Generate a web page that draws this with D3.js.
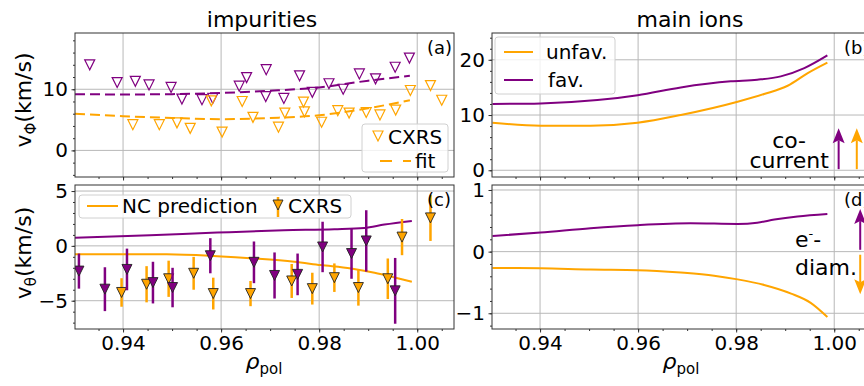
<!DOCTYPE html>
<html>
<head>
<meta charset="utf-8">
<title>impurity and main ion rotation</title>
<script src="https://d3js.org/d3.v7.min.js"></script>
<style>
  body { margin: 0; background: #fff; }
  text { font-family: "DejaVu Sans", sans-serif; fill: #000; }
</style>
</head>
<body>
<svg width="864" height="386"></svg>
<script>
const ORANGE = "orange", PURPLE = "purple";

// (a) impurity toroidal rotation, CXRS
const aRhoFav = [0.9332, 0.9388, 0.9425, 0.9453, 0.9498, 0.952, 0.9561, 0.9583, 0.9637, 0.9652, 0.9692, 0.9691, 0.9728, 0.976, 0.9786, 0.982, 0.9849, 0.9882, 0.9915, 0.9955, 0.9984];
const aVFav   = [14.0, 11.1, 11.3, 10.7, 10.3, 8.4, 8.3, 8.5, 10.5, 11.9, 13.2, 8.8, 8.5, 12.2, 9.5, 10.9, 10.0, 12.5, 11.7, 13.6, 15.1];
const aRhoUnf = [0.942, 0.9474, 0.951, 0.9537, 0.958, 0.9602, 0.9643, 0.9665, 0.9717, 0.973, 0.9768, 0.977, 0.9805, 0.9838, 0.9861, 0.9896, 0.9924, 0.9956, 0.9986, 1.0027, 1.005];
const aVUnf   = [4.2, 4.2, 4.5, 3.6, 8.1, 3.0, 8.0, 5.4, 3.8, 6.1, 7.9, 6.3, 4.6, 6.5, 6.1, 6.2, 5.8, 6.6, 9.8, 10.6, 8.2];
// (a) fits
const fitRho = [0.9302, 0.94, 0.95, 0.96, 0.97, 0.98, 0.99, 0.9985];
const fitFav = [9.2, 9.15, 9.2, 9.4, 9.75, 10.3, 11.4, 12.2];
const fitUnf = [6.0, 5.6, 5.3, 5.1, 5.3, 5.75, 6.9, 8.2];

// (c) impurity poloidal rotation, CXRS with errors
const cRhoFav = [0.931, 0.9363, 0.9408, 0.9461, 0.9501, 0.9578, 0.9667, 0.9709, 0.9756, 0.9807, 0.9866, 0.9896, 0.9955];
const cVFav   = [-2.3, -3.95, -2.15, -3.35, -3.8, -0.9, -1.5, -2.7, -2.6, -0.1, -0.7, 0.45, -4.1];
const cErrFav = [1.6, 2.0, 1.9, 1.9, 1.8, 1.6, 1.9, 2.1, 1.9, 2.3, 2.3, 2.8, 3.0];
const cRhoUnf = [0.9397, 0.9448, 0.9493, 0.9544, 0.9584, 0.966, 0.9744, 0.9786, 0.9831, 0.988, 0.994, 0.9969, 1.0027];
const cVUnf   = [-4.25, -3.5, -3.0, -2.5, -4.35, -4.35, -3.2, -3.9, -2.9, -3.8, -3.0, 0.8, 2.55];
const cErrUnf = [1.3, 1.65, 1.65, 1.5, 1.45, 1.15, 1.55, 1.45, 1.3, 1.65, 1.85, 1.65, 2.1];
// (c) neoclassical prediction
const ncRhoUnf = [0.9302, 0.9489, 0.9592, 0.9667, 0.9749, 0.9803, 0.9865, 0.9913, 0.9954, 0.9989];
const ncVUnf   = [-0.76, -0.76, -0.94, -1.15, -1.45, -1.75, -2.06, -2.45, -2.88, -3.27];
const ncRhoFav = [0.9302, 0.9455, 0.9592, 0.9728, 0.9831, 0.9892, 0.9933, 0.9989];
const ncVFav   = [0.73, 0.97, 1.21, 1.42, 1.52, 1.64, 1.94, 2.27];

// (b) main ion toroidal rotation
const bRho  = [0.9303, 0.9401, 0.9517, 0.9599, 0.9687, 0.9789, 0.9843, 0.9891, 0.9939, 0.9986];
const bFav  = [12.0, 12.1, 12.7, 13.6, 15.0, 16.1, 16.4, 17.0, 18.5, 20.8];
const bRhoU = [0.9303, 0.9401, 0.9503, 0.9599, 0.9687, 0.9803, 0.9857, 0.9905, 0.9946, 0.9986];
const bUnf  = [8.6, 8.06, 8.06, 8.6, 10.0, 12.4, 13.8, 15.3, 17.6, 19.5];

// (d) main ion poloidal rotation
const dRhoF = [0.9303, 0.9401, 0.9503, 0.9599, 0.9707, 0.9803, 0.9843, 0.9878, 0.9925, 0.9986];
const dFav  = [0.254, 0.31, 0.38, 0.43, 0.46, 0.45, 0.47, 0.52, 0.57, 0.61];
const dRhoU = [0.9303, 0.9401, 0.9503, 0.9599, 0.9687, 0.9755, 0.9803, 0.9857, 0.9912, 0.9952, 0.9986];
const dUnf  = [-0.265, -0.27, -0.29, -0.30, -0.34, -0.39, -0.45, -0.54, -0.68, -0.83, -1.06];

const xMajor = [0.94, 0.96, 0.98, 1.00];
const xMinor = d3.range(0.935, 1.0075, 0.005);
const xDom = [0.9302, 1.0075];

const svg = d3.select("svg");
const minus = d => (d < 0 ? "\u2212" + Math.abs(d) : String(d));
const tri = s => `M0,${s / 2}L${-s / 2},${-s / 2}L${s / 2},${-s / 2}Z`;
const zip = (a, b) => a.map((v, i) => [v, b[i]]);

function panel(x0, y0, w, h, yDom, yMajor, yMinor, tag, showX) {
  const g = svg.append("g").attr("transform", `translate(${x0},${y0})`);
  const x = d3.scaleLinear().domain(xDom).range([0, w]);
  const y = d3.scaleLinear().domain(yDom).range([h, 0]);
  // grid
  g.append("g").selectAll("line").data(xMajor).join("line")
    .attr("x1", d => x(d)).attr("x2", d => x(d)).attr("y1", 0).attr("y2", h)
    .attr("stroke", "#b8b8b8").attr("stroke-width", 1);
  g.append("g").selectAll("line").data(yMajor).join("line")
    .attr("y1", d => y(d)).attr("y2", d => y(d)).attr("x1", 0).attr("x2", w)
    .attr("stroke", "#b8b8b8").attr("stroke-width", 1);
  // axes
  const ya = g.append("g").call(d3.axisLeft(y).tickValues(yMajor).tickSize(3.5).tickPadding(3.5).tickFormat(minus));
  const ym = g.append("g").call(d3.axisLeft(y).tickValues(yMinor).tickSize(2).tickFormat(""));
  const xa = g.append("g").attr("transform", `translate(0,${h})`)
    .call(d3.axisBottom(x).tickValues(xMajor).tickSize(3.5).tickPadding(3.5).tickFormat(showX ? d3.format(".2f") : ""));
  const xm = g.append("g").attr("transform", `translate(0,${h})`)
    .call(d3.axisBottom(x).tickValues(xMinor).tickSize(2).tickFormat(""));
  [ya, ym, xa, xm].forEach(a => {
    a.select(".domain").remove();
    a.selectAll("line").attr("stroke", "#333");
    a.selectAll("text").style("font-size", "20px").attr("fill", "#000");
  });
  const clipId = "clip" + tag;
  g.append("clipPath").attr("id", clipId).append("rect").attr("width", w).attr("height", h);
  const data = g.append("g").attr("clip-path", `url(#${clipId})`);
  const top = g.append("g");
  g.append("rect").attr("width", w).attr("height", h).attr("fill", "none")
    .attr("stroke", "#333").attr("stroke-width", 1);
  top.append("text").attr("x", w - 27).attr("y", 21).style("font-size", "18px").text(`(${tag})`);
  return { g, x, y, data, top, w, h };
}

const line = (x, y, curve) => d3.line().x(d => x(d[0])).y(d => y(d[1])).curve(curve || d3.curveMonotoneX);

// ---------- (a) ----------
const A = panel(75, 33, 379, 144, [-4.35, 19.2], [0, 10], d3.range(-4, 19, 2), "a", false);
A.data.append("path").datum(zip(fitRho, fitFav)).attr("d", line(A.x, A.y))
  .attr("fill", "none").attr("stroke", PURPLE).attr("stroke-width", 2).attr("stroke-dasharray", "10,5");
A.data.append("path").datum(zip(fitRho, fitUnf)).attr("d", line(A.x, A.y))
  .attr("fill", "none").attr("stroke", ORANGE).attr("stroke-width", 2).attr("stroke-dasharray", "10,5");
A.data.selectAll(".pf").data(zip(aRhoFav, aVFav)).join("path")
  .attr("transform", d => `translate(${A.x(d[0])},${A.y(d[1])})`).attr("d", tri(10))
  .attr("fill", "none").attr("stroke", PURPLE).attr("stroke-width", 1.2);
A.data.selectAll(".pu").data(zip(aRhoUnf, aVUnf)).join("path")
  .attr("transform", d => `translate(${A.x(d[0])},${A.y(d[1])})`).attr("d", tri(10))
  .attr("fill", "none").attr("stroke", ORANGE).attr("stroke-width", 1.2);
// legend (a)
{
  const L = A.top.append("g").attr("transform", "translate(287,91)");
  L.append("rect").attr("width", 86).attr("height", 48).attr("rx", 3)
    .attr("fill", "#fff").attr("fill-opacity", 0.8).attr("stroke", "#d0d0d0");
  L.append("path").attr("transform", "translate(16,12)").attr("d", tri(10))
    .attr("fill", "none").attr("stroke", ORANGE).attr("stroke-width", 1.2);
  L.append("text").attr("x", 26).attr("y", 20).style("font-size", "20px").text("CXRS");
  L.append("line").attr("x1", 18).attr("x2", 49).attr("y1", 37).attr("y2", 37)
    .attr("stroke", ORANGE).attr("stroke-width", 2).attr("stroke-dasharray", "12,11");
  L.append("text").attr("x", 53).attr("y", 44).style("font-size", "20px").text("fit");
}

// ---------- (c) ----------
const C = panel(75, 185, 379, 144, [-7.58, 5.55], [-5, 0, 5], d3.range(-7, 6, 1), "c", true);
C.data.append("path").datum(zip(ncRhoFav, ncVFav)).attr("d", line(C.x, C.y))
  .attr("fill", "none").attr("stroke", PURPLE).attr("stroke-width", 2);
C.data.append("path").datum(zip(ncRhoUnf, ncVUnf)).attr("d", line(C.x, C.y))
  .attr("fill", "none").attr("stroke", ORANGE).attr("stroke-width", 2);
function errPts(P, rho, v, err, col) {
  const pts = rho.map((r, i) => ({ r, v: v[i], e: err[i] }));
  P.data.append("g").selectAll("line").data(pts).join("line")
    .attr("x1", d => P.x(d.r)).attr("x2", d => P.x(d.r))
    .attr("y1", d => P.y(d.v - d.e)).attr("y2", d => P.y(d.v + d.e))
    .attr("stroke", col).attr("stroke-width", 2.5);
  P.data.append("g").selectAll("path").data(pts).join("path")
    .attr("transform", d => `translate(${P.x(d.r)},${P.y(d.v)})`).attr("d", tri(10))
    .attr("fill", col).attr("stroke", "#222").attr("stroke-width", 0.9);
}
errPts(C, cRhoUnf, cVUnf, cErrUnf, ORANGE);
errPts(C, cRhoFav, cVFav, cErrFav, PURPLE);
// legend (c)
{
  const L = C.top.append("g").attr("transform", "translate(4,10)");
  L.append("rect").attr("width", 272).attr("height", 23).attr("rx", 3)
    .attr("fill", "#fff").attr("fill-opacity", 0.8).attr("stroke", "#d0d0d0");
  L.append("line").attr("x1", 8).attr("x2", 39).attr("y1", 11).attr("y2", 11)
    .attr("stroke", ORANGE).attr("stroke-width", 2);
  L.append("text").attr("x", 43).attr("y", 18).style("font-size", "20px").text("NC prediction");
  L.append("line").attr("x1", 199).attr("x2", 199).attr("y1", 2).attr("y2", 22)
    .attr("stroke", ORANGE).attr("stroke-width", 2.5);
  L.append("path").attr("transform", "translate(199,10)").attr("d", tri(10))
    .attr("fill", ORANGE).attr("stroke", "#222").attr("stroke-width", 0.9);
  L.append("text").attr("x", 209).attr("y", 18).style("font-size", "20px").text("CXRS");
}

// ---------- (b) ----------
const B = panel(492, 33, 379, 144, [-1.22, 24.85], [0, 10, 20], d3.range(0, 25, 2), "b", false);
B.data.append("path").datum(zip(bRhoU, bUnf)).attr("d", line(B.x, B.y))
  .attr("fill", "none").attr("stroke", ORANGE).attr("stroke-width", 2);
B.data.append("path").datum(zip(bRho, bFav)).attr("d", line(B.x, B.y))
  .attr("fill", "none").attr("stroke", PURPLE).attr("stroke-width", 2);
{
  const L = B.top.append("g").attr("transform", "translate(3,4)");
  L.append("rect").attr("width", 120).attr("height", 57).attr("rx", 3)
    .attr("fill", "#fff").attr("fill-opacity", 0.8).attr("stroke", "#d0d0d0");
  L.append("line").attr("x1", 9).attr("x2", 38).attr("y1", 15).attr("y2", 15)
    .attr("stroke", ORANGE).attr("stroke-width", 2);
  L.append("text").attr("x", 51).attr("y", 22).style("font-size", "20px").text("unfav.");
  L.append("line").attr("x1", 9).attr("x2", 38).attr("y1", 43).attr("y2", 43)
    .attr("stroke", PURPLE).attr("stroke-width", 2);
  L.append("text").attr("x", 53).attr("y", 50).style("font-size", "20px").text("fav.");
}
function arrow(P, r, v0, v1, col) {
  const x = P.x(r), ya = P.y(v0), yb = P.y(v1);
  const dir = yb < ya ? 1 : -1;
  P.top.append("line").attr("x1", x).attr("x2", x).attr("y1", ya).attr("y2", yb + dir * 12)
    .attr("stroke", col).attr("stroke-width", 2);
  P.top.append("path")
    .attr("d", `M${x},${yb}L${x - 6},${yb + dir * 15}L${x},${yb + dir * 12}L${x + 6},${yb + dir * 15}Z`)
    .attr("fill", col);
}
arrow(B, 1.0009, 0.2, 7.6, PURPLE);
arrow(B, 1.0046, 0.2, 7.6, ORANGE);
B.top.append("text").attr("x", B.x(0.9908)).attr("y", 115).attr("text-anchor", "middle")
  .style("font-size", "22px").text("co-");
B.top.append("text").attr("x", B.x(0.9908)).attr("y", 135).attr("text-anchor", "middle")
  .style("font-size", "22px").text("current");

// ---------- (d) ----------
const D = panel(492, 185, 379, 144, [-1.255, 1.081], [-1, 0, 1], d3.range(-1.2, 1.01, 0.2).map(v => +v.toFixed(1)), "d", true);
D.data.append("path").datum(zip(dRhoF, dFav)).attr("d", line(D.x, D.y))
  .attr("fill", "none").attr("stroke", PURPLE).attr("stroke-width", 2);
D.data.append("path").datum(zip(dRhoU, dUnf)).attr("d", line(D.x, D.y))
  .attr("fill", "none").attr("stroke", ORANGE).attr("stroke-width", 2);
arrow(D, 1.0053, 0.03, 0.69, PURPLE);
arrow(D, 1.0053, -0.05, -0.69, ORANGE);
{
  const t = D.top.append("text").attr("x", 303).attr("y", 62).style("font-size", "22px");
  t.append("tspan").text("e");
  t.append("tspan").attr("dy", -9).style("font-size", "13px").text("-");
  t.append("tspan").attr("dy", 9).text("-");
  D.top.append("text").attr("x", 303).attr("y", 90).style("font-size", "22px").text("diam.");
}

// ---------- titles and axis labels ----------
svg.append("text").attr("x", 262).attr("y", 27).attr("text-anchor", "middle")
  .style("font-size", "22px").text("impurities");
svg.append("text").attr("x", 690).attr("y", 27).attr("text-anchor", "middle")
  .style("font-size", "22px").text("main ions");

function ylab(cy, sub) {
  const t = svg.append("text").attr("transform", `translate(31,${cy}) rotate(-90)`)
    .attr("text-anchor", "middle").style("font-size", "22px");
  t.append("tspan").text("v");
  t.append("tspan").attr("dy", 5).style("font-size", "15px").text(sub);
  t.append("tspan").attr("dy", -5).text("(km/s)");
}
ylab(100, "\u03a6");
ylab(253, "\u03b8");

function xlab(cx) {
  const t = svg.append("text").attr("x", cx).attr("y", 369).attr("text-anchor", "middle")
    .style("font-size", "22px");
  t.append("tspan").style("font-style", "italic").text("\u03c1");
  t.append("tspan").attr("dy", 5).style("font-size", "15px").text("pol");
}
xlab(264);
xlab(681);
</script>
</body>
</html>
